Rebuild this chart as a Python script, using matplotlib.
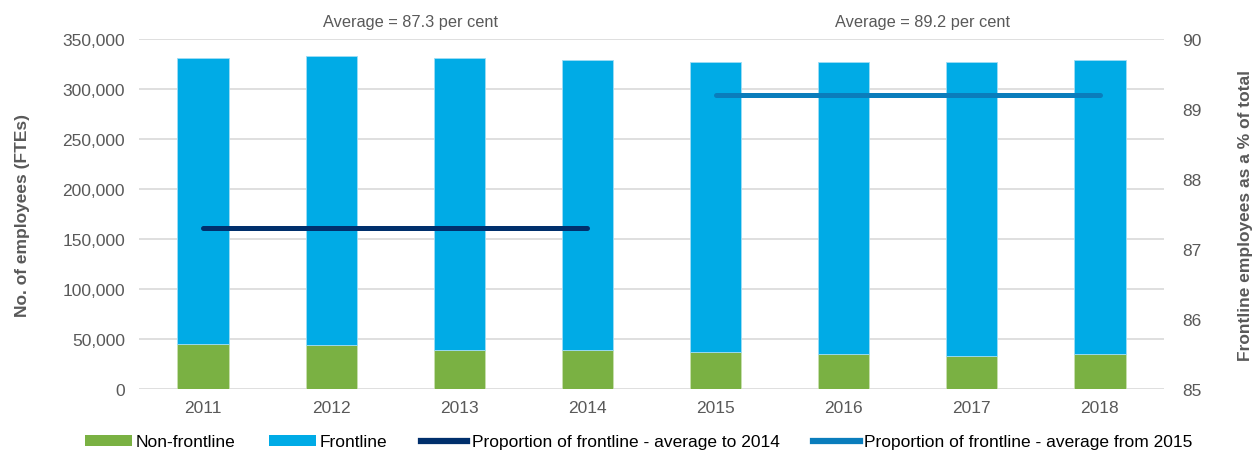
import matplotlib.pyplot as plt
from matplotlib.patches import Patch
from matplotlib.lines import Line2D

plt.rcParams["font.family"] = ["Liberation Sans", "DejaVu Sans"]

years = ["2011", "2012", "2013", "2014", "2015", "2016", "2017", "2018"]
non_frontline = [45300, 43700, 39000, 39000, 36700, 35000, 33000, 35000]
total = [331000, 332700, 331000, 329000, 327300, 327300, 327300, 329300]
frontline = [t - n for t, n in zip(total, non_frontline)]

avg_to_2014 = 87.3
avg_from_2015 = 89.2

GREEN = "#7AB143"
BLUE = "#00ABE6"
NAVY = "#002F6C"
MIDBLUE = "#0A7DBC"
GREY = "#595959"
GRID = "#D9D9D9"
FS = 12.5

fig = plt.figure(figsize=(12.52, 4.52), dpi=100)
ax = fig.add_axes([0.111, 0.137, 0.8187, 0.7745])
x = list(range(len(years)))

ax.bar(x, non_frontline, width=0.4, color=GREEN, edgecolor="#C8E0B0", linewidth=0.6, zorder=2)
ax.bar(x, frontline, width=0.4, bottom=non_frontline, color=BLUE,
       edgecolor="#9FDDF5", linewidth=0.6, zorder=2)

ax.set_xlim(-0.5, len(years) - 0.5)
ax.set_ylim(0, 350000)
ax.set_yticks(range(0, 350001, 50000))
ax.set_yticklabels([f"{v:,}" for v in range(0, 350001, 50000)])
ax.set_xticks(x)
ax.set_xticklabels(years)
ax.grid(axis="y", color=GRID, linewidth=1.2, zorder=0)
ax.set_axisbelow(True)
for s in ax.spines.values():
    s.set_visible(False)
ax.tick_params(axis="both", length=0, colors=GREY, labelsize=FS)
ax.tick_params(axis="y", pad=10)
ax.tick_params(axis="x", pad=8)
ax.set_ylabel("No. of employees (FTEs)", fontsize=FS, fontweight="bold", color=GREY, labelpad=23)

ax2 = ax.twinx()
ax2.set_ylim(85, 90)
ax2.set_yticks(range(85, 91))
for s in ax2.spines.values():
    s.set_visible(False)
ax2.tick_params(axis="y", length=0, colors=GREY, labelsize=FS, pad=13)
ax2.set_ylabel("Frontline employees as a % of total", fontsize=FS, fontweight="bold",
               color=GREY, labelpad=26)

ax2.plot(x[:4], [avg_to_2014] * 4, color=NAVY, linewidth=3.6, solid_capstyle="round", zorder=3)
ax2.plot(x[4:], [avg_from_2015] * 4, color=MIDBLUE, linewidth=3.6, solid_capstyle="round", zorder=3)

fig.text(0.3275, 0.951, f"Average = {avg_to_2014} per cent", ha="center", va="center",
         fontsize=11.8, color=GREY)
fig.text(0.7365, 0.951, f"Average = {avg_from_2015} per cent", ha="center", va="center",
         fontsize=11.8, color=GREY)

handles = [
    Patch(facecolor=GREEN),
    Patch(facecolor=BLUE),
    Line2D([0], [0], color=NAVY, linewidth=4.5),
    Line2D([0], [0], color=MIDBLUE, linewidth=4.5),
]
labels = [
    "Non-frontline",
    "Frontline",
    "Proportion of frontline - average to 2014",
    "Proportion of frontline - average from 2015",
]
fig.legend(handles, labels, loc="center", bbox_to_anchor=(0.51, 0.02), ncol=4,
           frameon=False, fontsize=FS, handlelength=2.7, handleheight=0.6,
           handletextpad=0.25, columnspacing=1.9, labelcolor="black")

fig.savefig("out.png", dpi=100)
